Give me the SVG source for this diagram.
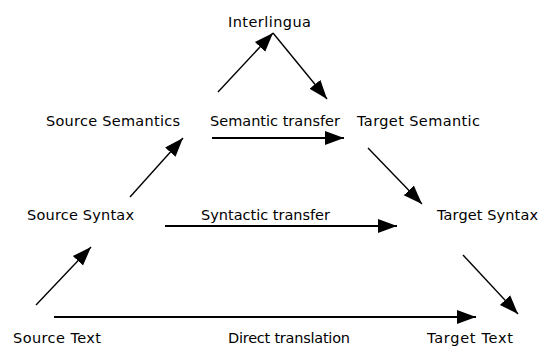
<svg xmlns="http://www.w3.org/2000/svg" width="538" height="347" viewBox="0 0 538 347">
<style>
text{font-family:"DejaVu Sans","Liberation Sans",sans-serif;font-size:14.5px;fill:#000}
.c line{stroke:#000;stroke-width:1.4;fill:none}
.c line.h{stroke-width:2}
</style>
<defs>
<marker id="ah" markerUnits="userSpaceOnUse" markerWidth="20" markerHeight="16" viewBox="0 0 20 16" refX="19" refY="8" orient="auto">
<path d="M0,1 L19,8 L0,15 Z" fill="#000"/>
</marker>
</defs>
<rect width="538" height="347" fill="#fff"/>
<g class="c" id="connectors">
<line x1="218" y1="92" x2="273" y2="33" marker-end="url(#ah)"/>
<line x1="273" y1="33" x2="327" y2="99" marker-end="url(#ah)"/>
<line class="h" x1="212" y1="138" x2="344" y2="138" marker-end="url(#ah)"/>
<line x1="130" y1="197" x2="183" y2="138" marker-end="url(#ah)"/>
<line x1="368" y1="148" x2="422" y2="204" marker-end="url(#ah)"/>
<line class="h" x1="165" y1="226" x2="397" y2="226" marker-end="url(#ah)"/>
<line x1="36" y1="305" x2="91" y2="247" marker-end="url(#ah)"/>
<line class="h" x1="54" y1="317" x2="476" y2="317" marker-end="url(#ah)"/>
<line x1="463" y1="255" x2="518" y2="314" marker-end="url(#ah)"/>
</g>
<g id="interlingua"><text x="228" y="27" textLength="83">Interlingua</text></g>
<g id="source-semantics"><text x="46" y="126" textLength="134">Source Semantics</text></g>
<g id="semantic-transfer"><text x="210" y="126" textLength="130">Semantic transfer</text></g>
<g id="target-semantic"><text x="357" y="126" textLength="123">Target Semantic</text></g>
<g id="source-syntax"><text x="27" y="220" textLength="107">Source Syntax</text></g>
<g id="syntactic-transfer"><text x="201" y="220" textLength="129">Syntactic transfer</text></g>
<g id="target-syntax"><text x="437" y="220" textLength="101">Target Syntax</text></g>
<g id="source-text"><text x="13" y="343" textLength="88">Source Text</text></g>
<g id="direct-translation"><text x="228" y="343" textLength="122">Direct translation</text></g>
<g id="target-text"><text x="427" y="343" textLength="86">Target Text</text></g>
</svg>
